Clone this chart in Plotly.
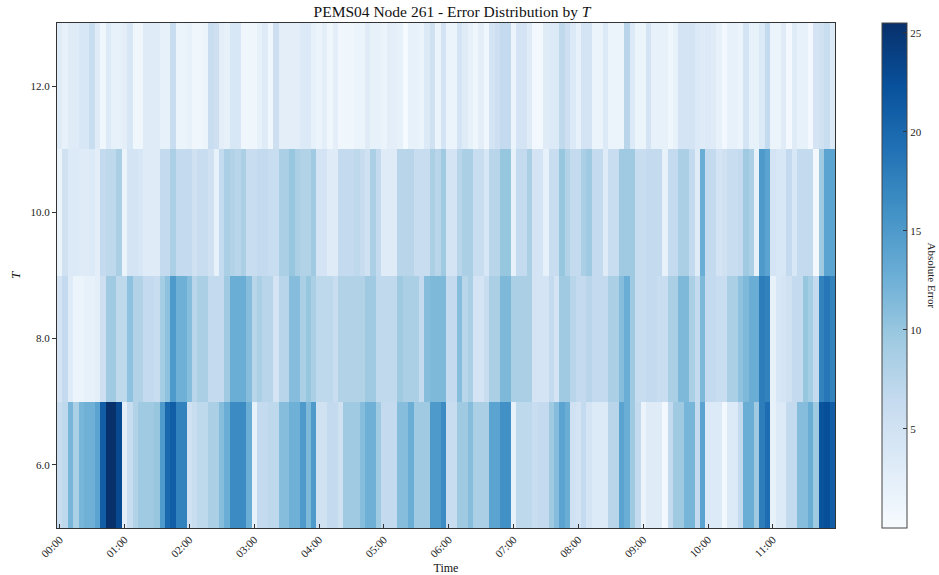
import plotly.graph_objects as go

# Time axis: 5-minute steps over 12 hours
time_labels = [f"{h:02d}:{m:02d}" for h in range(12) for m in range(0, 60, 5)]
hour_ticks = [f"{h:02d}:00" for h in range(12)]

T_values = [6, 8, 10, 12]
T_ticktext = ["6.0", "8.0", "10.0", "12.0"]

err_T6 = [6, 7, 12, 8.5, 12, 12.5, 12.5, 14, 21, 25.5, 25.5, 23, 2.5, 6, 8, 9.5, 9.5, 9.5, 10, 15, 20, 21, 17.5, 17.5,
          5, 6, 7, 7, 8.5, 8.5, 11, 12.8, 16.5, 16.5, 16.5, 12.8, 2, 6.5, 6.5, 7, 7, 11, 11, 12.5, 12.5, 15, 11.5, 15,
          5, 5, 6.5, 6.5, 5, 9.5, 9.5, 9.5, 11, 12.5, 12.5, 9.5, 6.5, 6.5, 6.5, 11, 11, 12.8, 9.5, 9.5, 9.5, 15, 15, 16.5,
          6, 6, 9.5, 9.5, 11, 8.5, 8.5, 8.5, 14, 14, 16, 16, 2, 7, 7, 7, 6, 6.5, 6.5, 9.5, 11, 14, 12.8, 5,
          4.5, 6.5, 4.5, 3.5, 3.5, 3.5, 7.5, 7.5, 14, 12.8, 9.5, 6.5, 1.5, 3, 3, 3, 0.5, 6.5, 9.5, 9.5, 12, 12, 6.5, 14,
          3.5, 3.5, 3.5, 0.5, 3.5, 3.5, 6.5, 12.8, 12.8, 9.5, 18, 19.5, 2, 3.5, 3.5, 6.5, 6.5, 11, 11, 12.8, 9.5, 22, 22.5, 21]

err_T8 = [4.5, 6.5, 3, 1.5, 1.5, 2, 2, 2.5, 5.5, 9.5, 9.5, 7, 7, 10.5, 8, 8, 6.5, 6.5, 6, 9, 10.5, 15, 12.5, 12.5,
          11, 7.5, 8.5, 8.5, 6.5, 6.5, 6.5, 9.5, 12.8, 12.8, 12.8, 11, 7.5, 8.5, 7.5, 7.5, 4.5, 7.5, 7.5, 11, 11, 8.5, 10, 8.5,
          7, 7, 7, 6, 8, 8, 8, 8, 8, 9.5, 9.5, 6.8, 6.8, 6.8, 6.8, 9.5, 8.5, 8.5, 8.5, 6.5, 11, 11.5, 11.5, 11.5,
          6.5, 6.5, 11, 7.5, 8.5, 4.5, 4.5, 6, 8.5, 8.5, 11.5, 11.5, 8.5, 8.5, 8.5, 8.5, 4.5, 4.5, 4.5, 6.5, 4.5, 9.5, 9.5, 7.5,
          6.5, 6.5, 7.5, 6.5, 6.5, 6.5, 8.5, 8.5, 11, 12.8, 9.5, 6, 6, 6.5, 6.5, 6, 6, 8.5, 8.5, 11.5, 11.5, 8.5, 6.5, 11.5,
          6.5, 6.5, 6, 6, 8.5, 8.5, 10.5, 11.5, 12.8, 12.8, 18, 17.5, 2, 4, 4.5, 5, 6.5, 6.5, 10, 9, 6.5, 17.5, 18.5, 17.5]

err_T10 = [1.5, 5, 3.5, 3.5, 3, 3, 3.5, 2.5, 6.5, 7, 7, 8.5, 1.5, 4.5, 4.5, 4, 3, 3, 3, 6.5, 6.5, 8.5, 6.5, 6.5,
           6.5, 5, 6, 6, 5, 2, 6.5, 8.5, 8, 7.5, 8.5, 6, 6, 6.5, 6.5, 6, 6, 8.5, 8.5, 10, 8.5, 8, 8, 9.5,
           4.5, 4.5, 3, 3, 6.5, 6.5, 6.5, 7, 6, 5, 8.5, 6.5, 3, 3, 3, 7.5, 7.5, 7.5, 6, 6, 6, 8.5, 7.5, 9.5,
           4.5, 4.5, 7.5, 8.5, 8.5, 6, 6, 4, 7.5, 7.5, 10, 10, 2, 6.5, 6.5, 8.5, 4.5, 4.5, 2, 6, 6, 10, 8, 6.5,
           6.5, 8.5, 9.5, 6.5, 6.5, 3, 6, 6, 9.5, 9.5, 9.5, 6, 6, 6.5, 6.5, 6.5, 2, 6.5, 6.5, 8.5, 8.5, 6.5, 3, 12.8,
           6.5, 6.5, 4.5, 5, 6, 6, 6.5, 9.5, 8.5, 2, 15, 14, 4.5, 4, 4, 6.5, 4, 6.5, 6.5, 6.5, 0.5, 9.5, 14, 14]

err_T12 = [3, 2, 3, 3, 4, 4, 6, 3, 1, 3.5, 2, 2, 2.5, 4, 1, 1, 3, 3, 3, 2, 2, 6, 1.5, 1.5,
           2, 1, 1, 1.5, 6, 5.5, 2.5, 2, 4, 4, 1, 1, 1, 2, 3, 1, 5.5, 2.5, 2.5, 2.5, 2.5, 3.5, 3.5, 2,
           1.5, 2.5, 1, 2.5, 1, 1, 1, 1.5, 1.5, 3, 2, 2, 1.5, 2.5, 2.5, 2, 0.2, 2, 2, 1.5, 3.5, 5, 1.5, 4.5,
           1.5, 1.5, 4.5, 3, 2, 1, 2.5, 1, 4.5, 5.5, 6.5, 6.5, 1.5, 4.5, 4.5, 3, 0.5, 0.5, 3, 3.5, 3.5, 6.8, 5.5, 3.5,
           2, 4.5, 4.5, 1.5, 1.5, 3.5, 1.5, 1.5, 1.5, 7.5, 3.5, 1.5, 1.5, 4.5, 2, 2, 2, 1, 2, 4.5, 4.5, 4.5, 3.5, 3,
           3.5, 3, 2, 0.5, 2, 2, 1.5, 4.5, 2, 2, 3.5, 6.5, 1.5, 1.5, 3, 0.5, 3, 2, 2, 0.5, 4.5, 5, 6, 3.5]

colorbar_ticks = [5, 10, 15, 20, 25]

blues = [[0.0, "#f7fbff"], [0.125, "#deebf7"], [0.25, "#c6dbef"], [0.375, "#9ecae1"],
         [0.5, "#6baed6"], [0.625, "#4292c6"], [0.75, "#2171b5"], [0.875, "#08519c"], [1.0, "#08306b"]]

FONT = "Liberation Serif, Times New Roman, serif"
W, H = 939, 575
L, R, T, B = 57, 835, 23, 528

z = [err_T6, err_T8, err_T10, err_T12]
zmax = max(max(r) for r in z)

fig = go.Figure(go.Heatmap(
    z=z, x=time_labels, y=T_values,
    colorscale=blues, zmin=0, zmax=zmax,
    colorbar=dict(
        x=(882 - L) / (R - L), xanchor="left", xpad=0, ypad=0,
        y=0.5, yanchor="middle", len=1, lenmode="fraction",
        thickness=25, thicknessmode="pixels",
        outlinewidth=1, outlinecolor="#444",
        ticks="inside", ticklen=4, tickcolor="#333", tickwidth=1,
        tickvals=colorbar_ticks, tickfont=dict(family=FONT, size=11, color="#222"),
    ),
    hovertemplate="Time %{x}<br>T %{y}<br>Error %{z}<extra></extra>",
))

fig.add_annotation(
    x=(932 - L) / (R - L), y=0.5, xref="paper", yref="paper",
    xanchor="center", yanchor="middle",
    text="Absolute Error", textangle=90, showarrow=False,
    font=dict(family=FONT, size=11, color="#222"),
)

fig.update_layout(
    width=W, height=H,
    margin=dict(l=L, r=W - R, t=T, b=H - B, autoexpand=False),
    paper_bgcolor="white", plot_bgcolor="white",
    font=dict(family=FONT, size=11, color="#222"),
    title=dict(text="PEMS04 Node 261 - Error Distribution by <i>T</i>",
               x=(452 / W), xanchor="center", y=1 - 12 / H, yanchor="middle",
               font=dict(family=FONT, size=15.5, color="#111")),
    xaxis=dict(
        tickmode="array", tickvals=hour_ticks, ticktext=hour_ticks,
        tickangle=-45, ticks="inside", ticklen=4, tickcolor="#333",
        showline=True, mirror=True, linecolor="#333", linewidth=1,
        showgrid=False, zeroline=False, automargin=False,
        tickfont=dict(family=FONT, size=11, color="#222"),
        title=dict(text="Time", font=dict(family=FONT, size=12, color="#111"), standoff=6),
    ),
    yaxis=dict(
        range=[5, 13], tickmode="array", tickvals=T_values, ticktext=T_ticktext,
        ticks="outside", ticklen=4, tickcolor="#333",
        showline=True, mirror=True, linecolor="#333", linewidth=1,
        showgrid=False, zeroline=False, automargin=False,
        tickfont=dict(family=FONT, size=11, color="#222"),
        title=dict(text="<i>T</i>", font=dict(family=FONT, size=13, color="#111"), standoff=6),
    ),
)

fig.write_html(
    "out.html",
    config={"displayModeBar": False},
    post_script="document.body.style.margin='0px';document.body.style.overflow='hidden';",
)
